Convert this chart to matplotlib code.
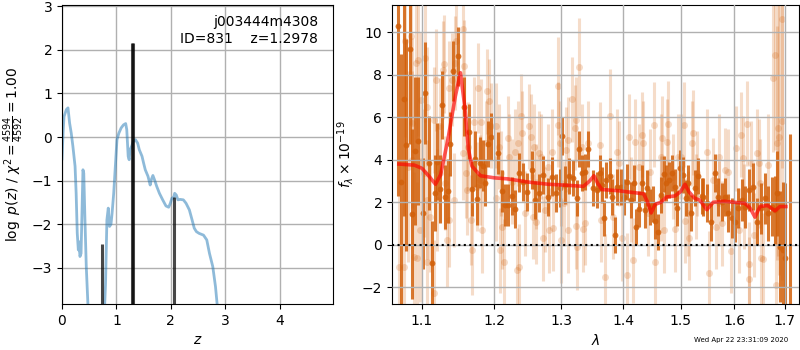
import matplotlib
matplotlib.use('Agg')
import matplotlib.pyplot as plt
from matplotlib.ticker import FormatStrFormatter, NullLocator

# ---------------- left panel: log p(z) ----------------
pz_z = [0.0, 0.02, 0.037, 0.08, 0.11, 0.14, 0.17, 0.2, 0.24, 0.26, 0.28, 0.30, 0.31, 0.33,
        0.35, 0.37, 0.385, 0.40, 0.42, 0.446, 0.476, 0.52, 0.6, 0.7, 0.77, 0.80, 0.825, 0.85,
        0.874, 0.90, 0.92, 0.95, 0.98, 1.01, 1.045, 1.087, 1.13, 1.17, 1.19, 1.216, 1.234,
        1.25, 1.28, 1.31, 1.35, 1.39, 1.42, 1.47, 1.50, 1.53, 1.58, 1.62, 1.64, 1.67, 1.70,
        1.74, 1.79, 1.85, 1.91, 1.96, 1.99, 2.02, 2.05, 2.07, 2.10, 2.13, 2.17, 2.23, 2.28,
        2.34, 2.39, 2.43, 2.47, 2.52, 2.60, 2.66, 2.71, 2.77, 2.82, 2.85, 2.9, 3.0]
pz_logp = [-0.5, 0.1, 0.47, 0.63, 0.67, 0.32, 0.09, -0.21, -0.67, -1.29, -2.2, -2.59, -2.4, -2.74,
           -2.67, -1.59, -0.75, -0.83, -1.82, -2.97, -3.83, -5.0, -7.0, -6.0, -4.3, -3.36, -1.9, -1.63,
           -2.05, -2.0, -1.75, -1.29, -0.67, -0.06, 0.09, 0.21, 0.28, 0.31, 0.17, -0.44, -0.52,
           -0.29, -0.21, -0.1, -0.06, -0.14, -0.29, -0.44, -0.6, -0.75, -0.9, -1.1, -0.98, -0.88, -0.98,
           -1.13, -1.29, -1.44, -1.58, -1.61, -1.52, -1.40, -1.40, -1.29, -1.33, -1.44, -1.43, -1.44, -1.52,
           -1.67, -1.9, -2.09, -2.17, -2.21, -2.25, -2.36, -2.67, -2.97, -3.43, -3.83, -4.5, -6.0]
peak_z = [0.735, 1.292, 1.302, 2.065]
peak_logp = [-2.45, 2.15, 2.15, -1.37]
floor_logp = -10.0

# ---------------- right panel: spectrum ----------------
lam_a = [1.0692, 1.0731, 1.0760, 1.0795, 1.0838, 1.0873, 1.0903, 1.0951, 1.1017, 1.1047,
         1.1100, 1.1127, 1.1172, 1.1203, 1.1239, 1.1273, 1.1314, 1.1346, 1.1382, 1.1418,
         1.1490, 1.1564, 1.1641, 1.1679, 1.1720, 1.1752, 1.1800, 1.1842, 1.1865, 1.1907,
         1.1949, 1.2057, 1.2107, 1.2155, 1.2203, 1.2252, 1.2301, 1.2360, 1.2424, 1.2484,
         1.2550, 1.2600, 1.2660, 1.2725, 1.2793, 1.2854, 1.2920, 1.2982, 1.3018, 1.3061,
         1.3124, 1.3181, 1.3245, 1.3286, 1.3334, 1.3377, 1.3429, 1.3500, 1.3565, 1.3615,
         1.3658, 1.3685, 1.3723, 1.3780, 1.3823, 1.3861, 1.3900, 1.3962, 1.4018, 1.4073,
         1.4141, 1.4187, 1.4226, 1.4273, 1.4324, 1.4370, 1.4415, 1.4467, 1.4514, 1.4554,
         1.4601, 1.4648, 1.4706, 1.4747, 1.4794, 1.4848, 1.4895, 1.4942, 1.4984, 1.5044,
         1.5103, 1.5134, 1.5193, 1.5256, 1.5317, 1.5390, 1.5415, 1.5477, 1.5551, 1.5632,
         1.5694, 1.5759, 1.5821, 1.5884, 1.5948, 1.6012, 1.6075, 1.6141, 1.6206, 1.6284,
         1.6367, 1.6446, 1.6513, 1.6598, 1.6664, 1.6733, 1.6799, 1.6845, 1.6899, 1.6953,
         1.7000, 1.7103]
flux_a = [10.28, 2.97, 6.87, 4.70, 9.23, 1.45, 4.42, 4.89, 1.48, 7.14,
          3.84, -0.86, 2.45, 3.92, 2.61, 6.59, 2.26, 2.53, 4.75, 8.19,
          8.87, 6.51, 5.33, 2.64, 4.04, 2.15, 3.87, 3.71, 2.92, 4.74,
          5.09, 4.31, 2.53, 1.87, 1.87, 2.30, 1.68, 3.40, 2.97, 2.47,
          3.52, 2.11, 2.45, 3.29, 2.26, 3.21, 2.45, 2.66, 5.13, 2.82,
          3.24, 3.13, 2.19, 4.51, 3.37, 3.42, 4.50, 2.66, 2.58, 3.37,
          2.82, 1.25, 3.05, 3.25, 2.26, 0.46, 2.74, 2.74, 2.26, 2.97,
          2.11, 2.92, 0.85, 1.67, 2.92, 1.64, 2.66, 1.76, 1.92, 1.13,
          0.61, 2.34, 3.33, 2.92, 3.05, 3.37, 2.74, 1.72, 3.60, 3.29,
          2.19, 2.90, 1.48, 2.66, 3.25, 2.30, 2.26, 1.95, 1.08, 3.37,
          2.26, 2.03, 2.26, 1.48, 1.25, 1.08, 1.72, 2.11, 1.79, 2.58,
          2.74, 1.08, 1.72, 2.19, 1.48, 1.79, 1.64, 2.42, -0.09, -0.25,
          -0.6, -3.0]
err_a = [8.0, 6.0, 5.5, 5.0, 4.5, 4.0, 3.5, 3.0, 2.6, 2.4,
         2.2, 2.0, 1.8, 1.8, 1.6, 1.6, 1.5, 1.5, 1.5, 1.4,
         1.4, 1.4, 1.3, 1.3, 1.3, 1.2, 1.2, 1.2, 1.1, 1.1,
         1.1, 1.0, 1.0, 1.0, 1.0, 0.9, 0.9, 0.9, 0.9, 0.9,
         0.9, 0.9, 0.9, 0.9, 0.9, 0.9, 0.9, 0.9, 0.9, 0.9,
         0.85, 0.85, 0.85, 0.85, 0.85, 0.85, 0.85, 0.85, 0.85, 0.85,
         0.85, 0.85, 0.85, 0.85, 0.85, 0.85, 0.85, 0.85, 0.85, 0.85,
         0.85, 0.85, 0.85, 0.85, 0.85, 0.85, 0.85, 0.85, 0.85, 0.85,
         0.85, 0.85, 0.85, 0.85, 0.85, 0.85, 0.85, 0.85, 0.85, 0.85,
         0.85, 0.85, 0.85, 0.85, 0.85, 0.85, 0.9, 0.9, 0.9, 0.9,
         0.9, 0.9, 0.9, 0.9, 0.95, 0.95, 0.95, 1.0, 1.0, 1.0,
         1.1, 1.1, 1.2, 1.2, 1.3, 1.4, 1.6, 2.0, 2.6, 3.2,
         3.5, 8.2]

lam_b = [1.0700, 1.0764, 1.0778, 1.0821, 1.0851, 1.0864, 1.0873, 1.0895, 1.0925, 1.0939,
         1.0951, 1.0970, 1.0982, 1.1026, 1.1034, 1.1070, 1.1070, 1.1070, 1.1113, 1.1159,
         1.1159, 1.1193, 1.1203, 1.1246, 1.1246, 1.1278, 1.1292, 1.1314, 1.1336, 1.1359,
         1.1359, 1.1403, 1.1425, 1.1439, 1.1461, 1.1551, 1.1551, 1.1574, 1.1591, 1.1605,
         1.1627, 1.1672, 1.1682, 1.1712, 1.1753, 1.1767, 1.1798, 1.1803, 1.1825, 1.1876,
         1.1893, 1.1916, 1.1943, 1.2019, 1.2027, 1.2063, 1.2080, 1.2094, 1.2105, 1.2138,
         1.2193, 1.2216, 1.2252, 1.2297, 1.2332, 1.2340, 1.2363, 1.2386, 1.2408, 1.2453,
         1.2512, 1.2543, 1.2574, 1.2588, 1.2610, 1.2610, 1.2655, 1.2690, 1.2722, 1.2753,
         1.2789, 1.2811, 1.2857, 1.2878, 1.2945, 1.2945, 1.2978, 1.2992, 1.3000, 1.3036,
         1.3081, 1.3104, 1.3113, 1.3170, 1.3215, 1.3229, 1.3238, 1.3248, 1.3283, 1.3329,
         1.3350, 1.3373, 1.3418, 1.3618, 1.3642, 1.3706, 1.3780, 1.3837, 1.3891, 1.3933,
         1.3977, 1.4073, 1.4094, 1.4141, 1.4163, 1.4200, 1.4268, 1.4320, 1.4347, 1.4432,
         1.4453, 1.4537, 1.4553, 1.4647, 1.4655, 1.4675, 1.4703, 1.4761, 1.4778, 1.4856,
         1.4902, 1.4959, 1.5017, 1.5061, 1.5086, 1.5134, 1.5160, 1.5200, 1.5230, 1.5277,
         1.5305, 1.5476, 1.5522, 1.5591, 1.5661, 1.5707, 1.5707, 1.5766, 1.5826, 1.5872,
         1.5943, 1.6031, 1.6092, 1.6137, 1.6168, 1.6180, 1.6253, 1.6280, 1.6287, 1.6329,
         1.6388, 1.6449, 1.6478, 1.6499, 1.6526, 1.6568, 1.6664, 1.6753, 1.6798, 1.6817,
         1.6842, 1.6861, 1.6880, 1.6949, 1.6949]
flux_b = [-1.04, -1.04, 9.58, 3.68, 9.84, 4.00, 5.73, -0.57, 8.58, -0.64,
          8.71, 0.69, 6.83, 3.37, 8.79, 6.51, -0.80, 2.11, 1.32, 5.88,
          -2.29, 7.77, 2.11, 5.57, 3.37, 8.24, 8.52, 2.90, 0.22, 7.38,
          1.17, 7.77, 2.11, 8.56, 9.58, 10.16, 4.31, 8.40, 3.37, 2.58,
          4.62, 1.17, -0.25, 5.80, 2.74, 7.38, 3.05, 5.80, 0.69, 4.78,
          7.22, 6.75, 5.60, 5.60, 2.19, 4.62, -0.25, 3.37, 0.85, -0.80,
          5.02, 4.15, 2.97, 4.39, -1.19, 4.78, -1.04, 6.04, 5.25, 1.48,
          5.57, 5.09, 1.32, 4.62, 1.08, 2.74, 4.31, 4.15, 0.30, 1.64,
          3.68, 0.69, 4.39, 0.77, 7.49, 5.65, 4.78, 0.22, 2.90, 1.95,
          4.47, 0.69, 4.94, 6.86, 5.52, 0.88, 5.88, -0.12, 8.37, 4.62,
          0.72, 1.04, 4.78, 4.70, 1.17, -1.51, 6.07, 1.32, 4.39, 3.84,
          0.30, -1.43, 5.09, 2.11, -0.72, 4.86, 3.68, 5.17, 4.78, 1.48,
          3.44, 5.65, -0.80, 4.15, 2.19, 5.02, 0.69, 4.86, 5.69, 3.21,
          0.72, 4.15, 4.15, 5.65, 1.13, 1.48, 0.34, 4.78, 5.28, 2.26,
          3.37, 4.39, -1.35, 3.05, 0.85, 4.15, 1.95, 1.01, 3.52, 3.44,
          -0.28, 4.55, 0.69, 5.17, 4.07, 1.79, 5.69, -0.92, -1.63, 3.84,
          0.46, 4.31, 3.84, 2.90, -0.64, -0.69, 3.76, 7.85, 8.95, -1.90,
          4.78, 5.49, 5.09, 10.63, 5.85]
err_b = [5.0, 5.0, 4.5, 4.5, 4.2, 4.2, 4.0, 4.0, 3.8, 3.6,
         3.6, 3.4, 3.2, 3.0, 3.0, 2.8, 2.8, 2.8, 2.6, 2.5,
         2.5, 2.4, 2.4, 2.3, 2.3, 2.3, 2.3, 2.2, 2.2, 2.2,
         2.2, 2.2, 2.2, 2.2, 2.2, 2.2, 2.2, 2.2, 2.1, 2.1,
         2.1, 2.1, 2.1, 2.1, 2.1, 2.1, 2.1, 2.0, 2.0, 2.0,
         2.0, 2.0, 2.0, 2.0, 2.0, 2.0, 2.0, 2.0, 2.0, 2.0,
         2.0, 2.0, 2.0, 2.0, 2.0, 2.0, 2.0, 2.0, 2.0, 2.0,
         2.0, 2.0, 2.0, 2.0, 2.0, 2.0, 2.0, 2.0, 2.0, 2.0,
         2.0, 2.0, 2.0, 2.0, 2.3, 2.0, 2.0, 2.0, 2.0, 2.0,
         2.0, 2.0, 2.0, 2.0, 2.0, 2.0, 2.0, 2.0, 2.3, 2.0,
         2.0, 2.0, 2.0, 2.0, 2.0, 2.0, 2.2, 2.0, 2.0, 2.0,
         2.0, 2.0, 2.0, 2.0, 2.0, 2.0, 2.0, 2.0, 2.0, 2.0,
         2.0, 2.0, 2.0, 2.0, 2.0, 2.0, 2.0, 2.0, 2.0, 2.0,
         2.0, 2.0, 2.0, 2.0, 2.0, 2.0, 2.0, 2.0, 2.0, 2.0,
         2.0, 2.0, 2.0, 2.0, 2.0, 2.0, 2.0, 2.0, 2.0, 2.0,
         2.0, 2.0, 2.0, 2.0, 2.0, 2.0, 2.0, 2.0, 2.0, 2.0,
         2.0, 2.1, 2.1, 2.1, 2.2, 2.2, 2.4, 3.5, 4.5, 5.0,
         5.5, 6.0, 6.5, 7.0, 7.5]

lam_model = [1.070, 1.090, 1.100, 1.110, 1.118, 1.125, 1.135, 1.145, 1.152, 1.158,
             1.163, 1.168, 1.180, 1.200, 1.220, 1.250, 1.280, 1.310, 1.335, 1.345,
             1.352, 1.358, 1.365, 1.390, 1.420, 1.435, 1.442, 1.448, 1.455, 1.465,
             1.475, 1.490, 1.500, 1.508, 1.515, 1.525, 1.535, 1.548, 1.560, 1.580,
             1.600, 1.620, 1.630, 1.640, 1.650, 1.665, 1.680, 1.690, 1.702]
flux_model = [3.80, 3.75, 3.60, 3.20, 2.85, 3.30, 5.00, 7.00, 8.10, 6.50,
              4.50, 3.70, 3.25, 3.15, 3.10, 2.95, 2.85, 2.80, 2.75, 3.00,
              3.25, 2.90, 2.60, 2.55, 2.45, 2.40, 2.00, 1.50, 1.90, 2.00,
              2.25, 2.30, 2.50, 2.85, 2.50, 2.20, 2.10, 1.65, 2.00, 2.05,
              2.00, 1.95, 1.75, 1.30, 1.80, 1.85, 1.60, 1.80, 1.80]

lam_ticks = [1.1, 1.2, 1.3, 1.4, 1.5, 1.6, 1.7]
zero_level = [0.0]

obj_name = 'j003444m4308'
obj_line = 'ID=831    z=1.2978'
stamp = 'Wed Apr 22 23:31:09 2020'

# ---------------- drawing ----------------
fig = plt.figure(figsize=(8, 3.5), dpi=100)
ax1 = fig.add_axes([0.0775, 0.1314, 0.3388, 0.8543])
ax2 = fig.add_axes([0.49, 0.1314, 0.5090, 0.8543])

ax1.plot(pz_z, pz_logp, color='C0', alpha=0.5, lw=2)
ax1.vlines(peak_z, floor_logp, peak_logp, color='k', alpha=0.72, lw=2.2)
ax1.set_xlim(0, 4.98)
ax1.set_ylim(-3.83, 3.03)
ax1.set_xticks([0, 1, 2, 3, 4])
ax1.set_yticks([-3, -2, -1, 0, 1, 2, 3])
ax1.grid(True, color='#b0b0b0', lw=1)
ax1.set_xlabel('$z$')
ax1.set_ylabel(r'$\log\ p(z)$ / $\chi^2=\frac{4594}{4592}=1.00$')
ax1.text(0.945, 0.965, obj_name + '\n' + obj_line, transform=ax1.transAxes,
         ha='right', va='top', fontsize=10)

col = '#d2600a'
ax2.set_axisbelow(False)
ax2.errorbar(lam_b, flux_b, yerr=err_b, fmt='o', color=col, ms=5, elinewidth=2.2,
             alpha=0.22, mew=0, zorder=1)
ax2.errorbar(lam_a, flux_a, yerr=err_a, fmt='o', color=col, ms=4.2, elinewidth=2.2,
             alpha=0.85, mew=0, zorder=1.5)
ax2.plot(lam_model, flux_model, color='red', alpha=0.65, lw=2.6, zorder=3)
ax2.axhline(zero_level[0], color='k', ls=':', lw=1.5, zorder=3)
ax2.set_xscale('log')
ax2.set_xlim(1.0612, 1.7294)
ax2.set_ylim(-2.79, 11.29)
ax2.set_xticks(lam_ticks)
ax2.xaxis.set_major_formatter(FormatStrFormatter('%.1f'))
ax2.xaxis.set_minor_locator(NullLocator())
ax2.set_yticks([-2, 0, 2, 4, 6, 8, 10])
ax2.grid(True, color='#b0b0b0', lw=1)
ax2.set_xlabel(r'$\lambda$')
ax2.set_ylabel(r'$f_\lambda\times10^{-19}$')

fig.text(0.985, 0.028, stamp, ha='right', va='center', fontsize=5)

fig.savefig('out.png', dpi=100)
